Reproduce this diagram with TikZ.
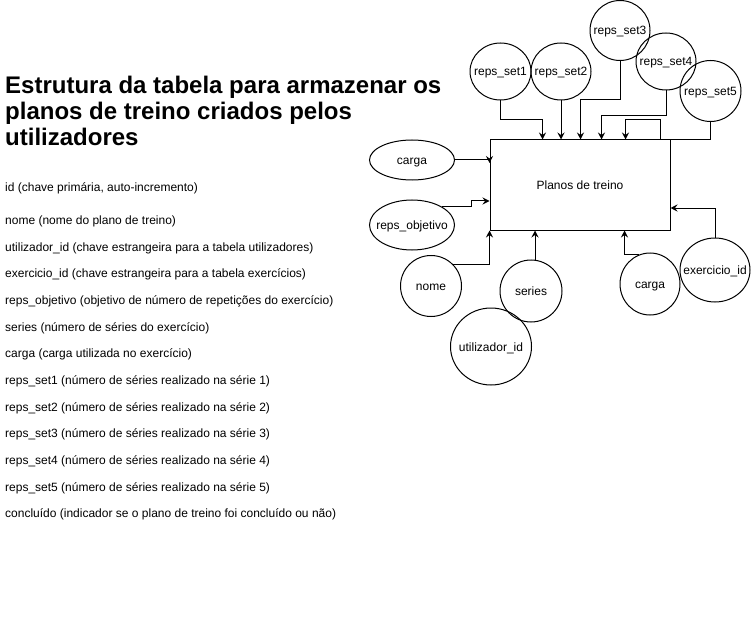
\documentclass[tikz,border=0pt]{standalone}
\usepackage{fontspec}
\setmainfont{Liberation Sans}
\usetikzlibrary{shapes.geometric,arrows.meta,calc}
\tikzset{
  ell/.style={ellipse, draw, line width=1bp, inner sep=0pt, text height=9bp, text depth=0bp, font=\fontsize{12bp}{14bp}\selectfont},
  box/.style={rectangle, draw, line width=1bp, inner sep=0pt, text height=9bp, text depth=0bp, font=\fontsize{12bp}{14bp}\selectfont},
  arr/.style={line width=1bp, -{Stealth[length=7bp,width=7bp,inset=2.5bp]}},
  ttl/.style={anchor=base west, inner sep=0pt, font=\fontsize{24bp}{26bp}\selectfont\bfseries},
  itm/.style={anchor=base west, inner sep=0pt, font=\fontsize{12bp}{14bp}\selectfont}
}
\begin{document}
\begin{tikzpicture}[x=1bp,y=-1bp]
\useasboundingbox (0,0) rectangle (751,641);
% title
\node[ttl] (t1) at (5,94) {Estrutura da tabela para armazenar os};
\node[ttl] (t2) at (5,120) {planos de treino criados pelos};
\node[ttl] (t3) at (5,146) {utilizadores};
% list
\node[itm] (l1) at (5,191.5) {id (chave primária, auto-incremento)};
\node[itm] (l2) at (5,224.5) {nome (nome do plano de treino)};
\node[itm] (l3) at (5,251) {utilizador\_id (chave estrangeira para a tabela utilizadores)};
\node[itm] (l4) at (5,277.5) {exercicio\_id (chave estrangeira para a tabela exercícios)};
\node[itm] (l5) at (5,304) {reps\_objetivo (objetivo de número de repetições do exercício)};
\node[itm] (l6) at (5,331) {series (número de séries do exercício)};
\node[itm] (l7) at (5,357) {carga (carga utilizada no exercício)};
\node[itm] (l8) at (5,384.5) {reps\_set1 (número de séries realizado na série 1)};
\node[itm] (l9) at (5,411) {reps\_set2 (número de séries realizado na série 2)};
\node[itm] (l10) at (5,437.5) {reps\_set3 (número de séries realizado na série 3)};
\node[itm] (l11) at (5,464) {reps\_set4 (número de séries realizado na série 4)};
\node[itm] (l12) at (5,491) {reps\_set5 (número de séries realizado na série 5)};
\node[itm] (l13) at (5,517.5) {concluído (indicador se o plano de treino foi concluído ou não)};
% main entity
\node[box, minimum width=180bp, minimum height=90bp] (pt) at (580,185) {Planos de treino};
% attributes
\node[ell, minimum width=61bp, minimum height=57bp] (r1) at (500.5,71.5) {\makebox[0pt]{reps\_set1}};
\node[ell, minimum width=60bp, minimum height=57bp] (r2) at (561,71.5) {\makebox[0pt]{reps\_set2}};
\node[ell, minimum width=60bp, minimum height=60bp] (r3) at (620,30.5) {\makebox[0pt]{reps\_set3}};
\node[ell, minimum width=60bp, minimum height=57bp] (r4) at (666,61.5) {\makebox[0pt]{reps\_set4}};
\node[ell, minimum width=61bp, minimum height=61bp] (r5) at (710.5,91) {\makebox[0pt]{reps\_set5}};
\node[ell, minimum width=85bp, minimum height=40bp] (cl) at (412,160) {\makebox[0pt]{carga}};
\node[ell, minimum width=85bp, minimum height=50bp] (ro) at (412,225) {\makebox[0pt]{reps\_objetivo}};
\node[ell, minimum width=61bp, minimum height=61bp] (nome) at (431,286) {\makebox[0pt]{nome}};
\node[ell, minimum width=62bp, minimum height=62bp] (se) at (531,291) {\makebox[0pt]{series}};
\node[ell, minimum width=81bp, minimum height=77bp] (ut) at (491,346.5) {\makebox[0pt]{utilizador\_id}};
\node[ell, minimum width=60bp, minimum height=62bp] (cr) at (650,284) {\makebox[0pt]{carga}};
\node[ell, minimum width=70bp, minimum height=64bp] (ex) at (715,270) {\makebox[0pt]{exercicio\_id}};
% connectors
\draw[arr] (r1.south) -- ++(0,19) -| ($(pt.north west)+(53,0)$);
\draw[arr] (r2.south) -- (r2.south |- pt.north);
\draw[arr] (r3.south) -- ++(0,39) -| ($(pt.north west)+(91,0)$);
\draw[arr] (r4.south) -- ++(0,25) -| ($(pt.north west)+(112,0)$);
\draw[arr] (r5.south) |- ($(pt.north east)+(-10,0)$) -- ++(0,-20) -| ($(pt.north west)+(136,0)$);
\draw[arr] (cl.east) -- (cl.east -| pt.west) -- ++(0,3);
\draw[arr] (ro.north east) -- ++(29,0) |- ($(pt.west)+(0,16)$);
\draw[arr] (nome.north east) -| (pt.south west);
\draw[arr] ($(se.north)+(4,0)$) -- ($(se.north |- pt.south)+(4,0)$);
\draw[arr] (cr.110) -| ($(pt.south west)+(135,0)$);
\draw[arr] (ex.north) |- ($(pt.east)+(0,23)$);
\end{tikzpicture}
\end{document}
